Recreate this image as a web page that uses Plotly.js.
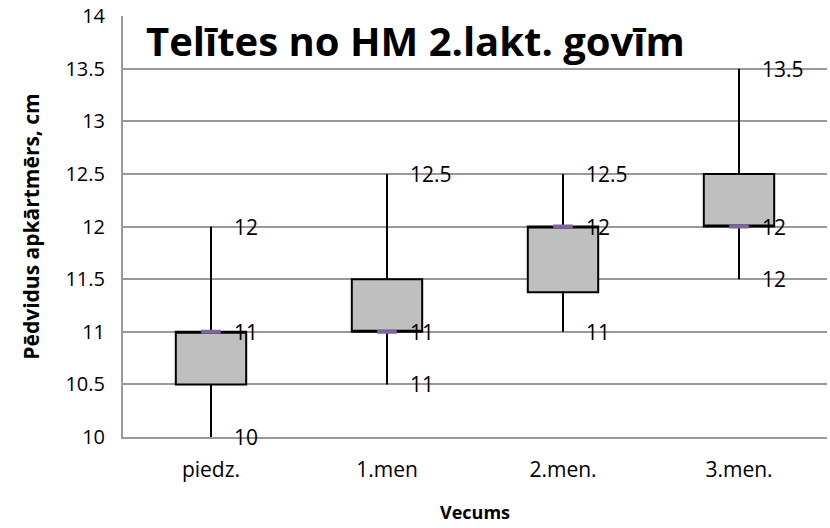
<!DOCTYPE html>
<html><head><meta charset="utf-8">
<script src="https://cdn.plot.ly/plotly-3.0.1.min.js"></script>
<style>html,body{margin:0;padding:0;background:#fff}#chart{width:830px;height:528px}</style>
</head><body><div id="chart"></div>
<script>
const categories = ['piedz.', '1.men', '2.men.', '3.men.'];
const minValues = [10, 10.5, 11, 11.5];
const q1Values = [10.5, 11, 11.375, 12];
const medianValues = [11, 11, 12, 12];
const q3Values = [11, 11.5, 12, 12.5];
const maxValues = [12, 12.5, 12.5, 13.5];
const maxLabels = ['12', '12.5', '12.5', '13.5'];
const medianLabels = ['11', '11', '12', '12'];
const minLabels = ['10', '11', '11', '12'];
const yTickValues = [10, 10.5, 11, 11.5, 12, 12.5, 13, 13.5, 14];
const yTickLabels = ['10', '10.5', '11', '11.5', '12', '12.5', '13', '13.5', '14'];

const FONT = 'Open Sans, sans-serif';

const boxTrace = {
  type: 'box', x: categories,
  q1: q1Values, median: medianValues, q3: q3Values,
  lowerfence: minValues, upperfence: maxValues,
  fillcolor: '#bfbfbf', line: {color: '#000000', width: 2},
  whiskerwidth: 0, boxpoints: false, hoverinfo: 'skip', showlegend: false
};
const medianTrace = {
  type: 'scatter', mode: 'markers', x: categories, y: medianValues,
  marker: {symbol: 'line-ew', size: 14, line: {color: '#8064a2', width: 4}},
  hoverinfo: 'skip', showlegend: false, cliponaxis: false
};

const annotations = [];
function addLabels(vals, labels) {
  for (let i = 0; i < categories.length; i++) {
    annotations.push({x: categories[i], y: vals[i], xref: 'x', yref: 'y', text: labels[i],
      showarrow: false, xanchor: 'left', yanchor: 'middle', xshift: 21,
      font: {family: FONT, size: 21, color: '#000'}});
  }
}
addLabels(maxValues, maxLabels);
addLabels(medianValues, medianLabels);
addLabels(minValues, minLabels);

const layout = {
  width: 830, height: 528,
  margin: {l: 123, r: 3, t: 16, b: 91},
  paper_bgcolor: '#ffffff', plot_bgcolor: '#ffffff',
  font: {family: FONT, size: 20, color: '#000000'},
  showlegend: false,
  title: {text: 'Telītes no HM 2.lakt. govīm', font: {family: FONT, size: 40, weight: 'bold', color: '#000'},
    x: 146 / 830, xref: 'container', xanchor: 'left', y: 1 - 42 / 528, yref: 'container', yanchor: 'middle'},
  boxgap: 0.6, boxgroupgap: 0,
  xaxis: {type: 'category', categoryorder: 'array', categoryarray: categories, range: [-0.5, 3.5],
    showline: true, linecolor: '#999999', linewidth: 2, showgrid: false, ticks: '', zeroline: false,
    tickfont: {family: FONT, size: 21}, ticklabelstandoff: 13, fixedrange: true,
    title: {text: 'Vecums', font: {family: FONT, size: 18, weight: 'bold'}, standoff: 24}},
  yaxis: {range: [10, 14], tickvals: yTickValues, ticktext: yTickLabels,
    showgrid: true, gridcolor: '#999999', gridwidth: 2,
    showline: true, linecolor: '#999999', linewidth: 2, ticks: '', zeroline: false,
    tickfont: {family: FONT, size: 20}, ticklabelstandoff: 12, fixedrange: true,
    title: {text: 'Pēdvidus apkārtmērs, cm', font: {family: FONT, size: 21, weight: 'bold'}, standoff: 20}},
  annotations: annotations
};

Plotly.newPlot('chart', [boxTrace, medianTrace], layout, {displayModeBar: false, staticPlot: true});
</script>
</body></html>
